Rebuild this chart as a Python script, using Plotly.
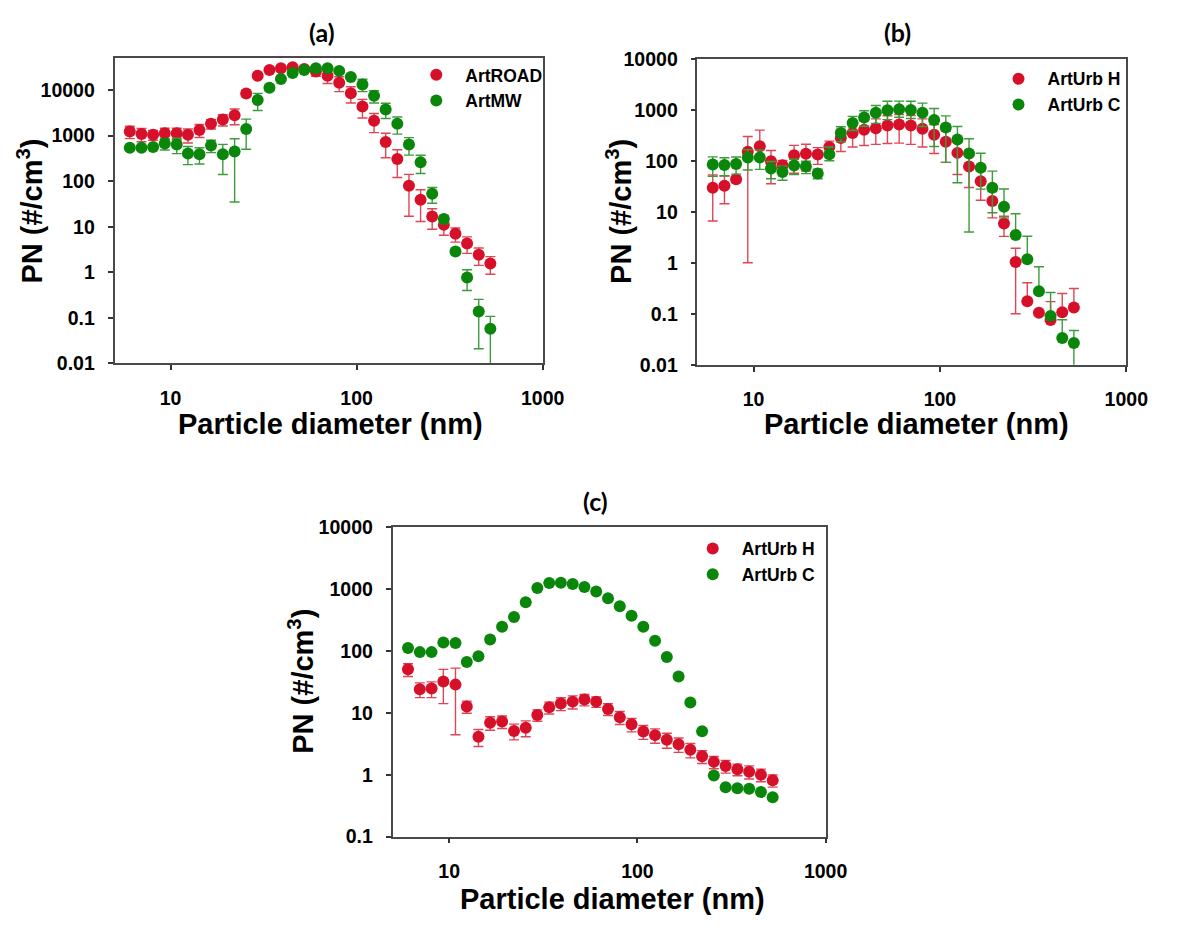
import plotly.graph_objects as go

# ---------------- data ----------------
diam_nm = [6.04, 6.98, 8.06, 9.31, 10.8, 12.4, 14.3, 16.5, 19.1, 22.1, 25.5, 29.4,
           34.0, 39.2, 45.3, 52.3, 60.4, 69.8, 80.6, 93.1, 107.5, 124.1, 143.3,
           165.5, 191.1, 220.7, 254.8, 294.3, 339.8, 392.4, 453.2, 523.3]

# panel (a)
art_road = [1230, 1080, 1040, 1130, 1130, 1040, 1330, 1820, 2250, 2790, 8360, 20600,
            27600, 30000, 31500, 29000, 25500, 20500, 14400, 8500, 4340, 2110, 726,
            305, 79, 39, 16.8, 11.1, 7.0, 4.3, 2.42, 1.56]
art_road_err = [373, 349, 250, 315, 315, 350, 420, 420, 630, 1056, 1200, 2500,
                3000, 3000, 3500, 4000, 5600, 6600, 5200, 3300, 1900, 950, 400,
                185, 62, 26, 8, 4.6, 2.4, 1.7, 1.0, 0.65]
art_mw = [541, 541, 559, 669, 637, 403, 390, 607, 390, 445, 1400, 6010,
          11200, 17500, 23500, 27600, 30000, 30000, 26300, 19300, 13200, 7450, 3740,
          1820, 637, 259, 52.7, 14.7, 2.86, 0.77, 0.138, 0.058]
art_mw_err = [60, 60, 60, 187, 234, 172, 152, 184, 250, 410, 900, 2445,
              1500, 2000, 2500, 2500, 2500, 2500, 2500, 2000, 4000, 2260, 1375,
              744, 265, 112, 20, 3, 0.3, 0.37, 0.117, 0.05]

# panel (b)
urb_h_b = [29.6, 32.4, 43.5, 150, 192, 97.5, 81.8, 129, 137, 133, 186, 281,
           351, 406, 437, 492, 514, 492, 425, 326, 236, 143, 77,
           39.8, 16.3, 5.89, 1.03, 0.176, 0.105, 0.075, 0.107, 0.133]
urb_h_b_plus = [23, 18, 6, 149, 208, 62, 20, 72, 74, 48, 57, 129,
                165, 206, 227, 273, 292, 282, 239, 187, 143, 89, 47,
                23, 8.7, 2.3, 0.9, 0.23, 0.01, 0.098, 0.143, 0.18]
urb_h_b_minus = [23, 18, 6, 149, 0, 62, 20, 72, 74, 48, 57, 129,
                 165, 206, 227, 273, 292, 282, 239, 187, 143, 89, 47,
                 23, 8.7, 2.6, 0.93, 0, 0.01, 0, 0, 0]
urb_c_b = [84.4, 83, 86.8, 116, 116, 70.6, 60.1, 80.6, 77, 56.6, 135, 351,
           553, 710, 872, 981, 1026, 996, 872, 631, 450, 261, 139,
           72.8, 29.6, 12.6, 3.52, 1.17, 0.277, 0.0908, 0.0334, 0.0268]
urb_c_b_plus = [35, 32, 32, 50, 48, 26, 18.5, 27, 21, 12, 51, 114,
                190, 250, 345, 490, 454, 480, 483, 430, 310, 210, 132,
                68, 33, 15.4, 5.6, 2.15, 0.557, 0.17, 0.043, 0.02]
urb_c_b_minus = [35, 32, 32, 50, 48, 26, 18.5, 27, 21, 12, 35, 114,
                 160, 235, 330, 340, 310, 320, 400, 440, 357, 224, 135,
                 45, 20, 5, 0, 0, 0, 0, 0, 0.02]

# panel (c)
urb_h_c = [50.1, 23.9, 24.5, 32, 28.4, 12.6, 4.1, 6.9, 7.2, 5.09, 5.74, 9.2,
           12.2, 14.1, 15.1, 16.3, 15.1, 11.5, 8.47, 6.49, 4.97, 4.35, 3.67,
           3.1, 2.53, 1.98, 1.61, 1.38, 1.22, 1.12, 1.0, 0.81]
urb_h_c_err = [11.7, 6.4, 7, 18, 24, 2.8, 1.25, 1.7, 1.65, 1.45, 1.64, 1.9,
               2.65, 3.3, 3.6, 3.4, 2.9, 2.5, 2.0, 1.58, 1.25, 1.14, 1.0,
               0.81, 0.66, 0.46, 0.36, 0.32, 0.26, 0.27, 0.23, 0.18]
urb_c_c = [111, 95, 95, 136, 133, 66, 81.2, 152, 244, 351, 605, 1030,
           1234, 1250, 1191, 1067, 901, 700, 523, 368, 244, 145, 79.3,
           38.4, 14.6, 5.04, 0.97, 0.628, 0.606, 0.592, 0.525, 0.432]

x_tickvals = [10, 100, 1000]
x_ticktext = ["10", "100", "1000"]
y_tickvals_ab = [0.01, 0.1, 1, 10, 100, 1000, 10000]
y_ticktext_ab = ["0.01", "0.1", "1", "10", "100", "1000", "10000"]
y_tickvals_c = [0.1, 1, 10, 100, 1000, 10000]
y_ticktext_c = ["0.1", "1", "10", "100", "1000", "10000"]

panel_titles = ["(a)", "(b)", "(c)"]
x_title = "Particle diameter (nm)"
y_title = "PN (#/cm<sup>3</sup>)"

# ---------------- style ----------------
RED = "#d7102a"
GREEN = "#0a860a"
RED_ERR = "#e04556"
GREEN_ERR = "#3c9c3c"
W, H = 1180, 929
SANS = "Liberation Sans"


def err(plus, minus=None, color=RED_ERR):
    if minus is None:
        return dict(type="data", array=plus, symmetric=True, color=color,
                    thickness=1.4, width=5)
    return dict(type="data", array=plus, arrayminus=minus, symmetric=False,
                color=color, thickness=1.4, width=5)


fig = go.Figure()


def add(y, name, color, xa, ya, legend, group, error=None):
    fig.add_trace(go.Scatter(
        x=diam_nm, y=y, name=name, mode="markers",
        marker=dict(color=color, size=12, line=dict(width=0)),
        error_y=error if error is not None else dict(visible=False),
        xaxis=xa, yaxis=ya, legend=legend, legendgroup=group))


add(art_road, "ArtROAD", RED, "x", "y", "legend", "a1", err(art_road_err, None, RED_ERR))
add(art_mw, "ArtMW", GREEN, "x", "y", "legend", "a2", err(art_mw_err, None, GREEN_ERR))
add(urb_h_b, "ArtUrb H", RED, "x2", "y2", "legend2", "b1", err(urb_h_b_plus, urb_h_b_minus, RED_ERR))
add(urb_c_b, "ArtUrb C", GREEN, "x2", "y2", "legend2", "b2", err(urb_c_b_plus, urb_c_b_minus, GREEN_ERR))
add(urb_h_c, "ArtUrb H", RED, "x3", "y3", "legend3", "c1", err(urb_h_c_err, None, RED_ERR))
add(urb_c_c, "ArtUrb C", GREEN, "x3", "y3", "legend3", "c2", None)


def px_x(v):
    return v / W


def px_y(v):
    return 1 - v / H


tickfont = dict(family=SANS, size=19.5, color="black", weight="bold")


def xaxis(dom, anchor):
    return dict(type="log", domain=dom, range=[0.69897, 3], anchor=anchor,
                tickvals=x_tickvals, ticktext=x_ticktext, ticks="outside",
                ticklen=5, tickwidth=1.5, tickcolor="#333", showline=True,
                linecolor="#4a4a4a", linewidth=1.6, mirror=True, showgrid=False,
                zeroline=False, tickfont=tickfont, ticklabelstandoff=11)


def yaxis(dom, rng, tv, tt, anchor):
    return dict(type="log", domain=dom, range=rng, anchor=anchor,
                tickvals=tv, ticktext=tt, ticks="outside",
                ticklen=5, tickwidth=1.5, tickcolor="#333", showline=True,
                linecolor="#4a4a4a", linewidth=1.6, mirror=True, showgrid=False,
                zeroline=False, tickfont=tickfont, ticklabelstandoff=9)


legfont = dict(family=SANS, size=17.5, color="black", weight="bold")


def legend(x, y):
    return dict(x=px_x(x), y=px_y(y), xanchor="left", yanchor="top",
                bgcolor="rgba(0,0,0,0)", borderwidth=0, font=legfont,
                itemwidth=48, tracegroupgap=0)


annotations = []


def ann(text, x, y, size, family, angle=0):
    annotations.append(dict(text=text, x=px_x(x), y=px_y(y), xref="paper", yref="paper",
                            showarrow=False, xanchor="center", yanchor="middle",
                            textangle=angle,
                            font=dict(family=family, size=size, color="black", weight="bold")))


ann(panel_titles[0], 328.6, 21.7, 25, "Lato")
ann(panel_titles[1], 914.5, 21.7, 25, "Lato")
ann(panel_titles[2], 606.8, 501.7, 25, "Lato")
ann(x_title, 336.5, 423.3, 29, SANS)
ann(x_title, 933.5, 423.3, 29, SANS)
ann(x_title, 623.7, 910, 29, SANS)
ann(y_title, 31, 205, 29, SANS, -90)
ann(y_title, 630.5, 205, 29, SANS, -90)
ann(y_title, 306.7, 686, 29, SANS, -90)

fig.update_layout(
    width=W, height=H, autosize=False,
    margin=dict(l=0, r=0, t=0, b=0),
    paper_bgcolor="white", plot_bgcolor="white",
    xaxis=xaxis([px_x(116.7), px_x(553)], "y"),
    yaxis=yaxis([px_y(361), px_y(48.3)], [-2, 4.699], y_tickvals_ab, y_ticktext_ab, "x"),
    xaxis2=xaxis([px_x(710.7), px_x(1147.7)], "y2"),
    yaxis2=yaxis([px_y(362.3), px_y(49)], [-2, 4], y_tickvals_ab, y_ticktext_ab, "x2"),
    xaxis3=xaxis([px_x(400), px_x(841.3)], "y3"),
    yaxis3=yaxis([px_y(845.7), px_y(528.3)], [-1, 4], y_tickvals_c, y_ticktext_c, "x3"),
    legend=legend(415, 47),
    legend2=legend(1008.3, 51),
    legend3=legend(696.7, 532.3),
    annotations=annotations,
    showlegend=True,
)

fig.write_html("out.html",
               config={"displayModeBar": False},
               post_script="document.body.style.margin='0px';document.body.style.padding='0px';")
